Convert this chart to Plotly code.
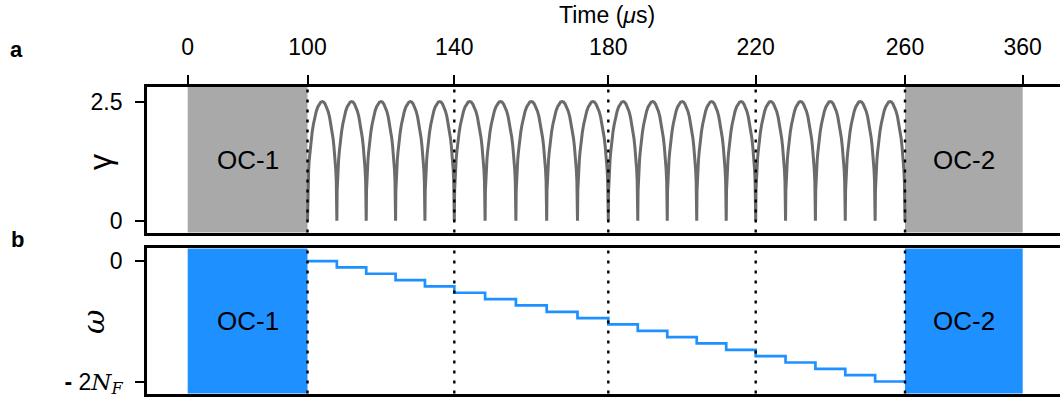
import numpy as np
import plotly.graph_objects as go

# ---------------- data ----------------
# time axis (μs) and the tick labels shown on the top axis
time_ticks = [0, 100, 140, 180, 220, 260, 360]
time_tick_labels = ["0", "100", "140", "180", "220", "260", "360"]
# segment boundaries (dotted lines)
boundaries = [100, 140, 180, 220, 260]
# optimal-control windows
oc_windows = [(0, 100, "OC-1"), (260, 360, "OC-2")]

# panel a: times of the dips of gamma (every 8 μs between 100 and 260)
dip_times = [100, 108, 116, 124, 132, 140, 148, 156, 164, 172, 180,
             188, 196, 204, 212, 220, 228, 236, 244, 252, 260]
# one arch of gamma between two dips (half arch, mirrored)
arch_frac_half = [0.0, 0.01, 0.02, 0.04, 0.06, 0.08, 0.10, 0.13, 0.16, 0.20,
                  0.25, 0.30, 0.35, 0.40, 0.45, 0.50]
arch_gamma_half = [0.0, 0.63, 0.83, 1.09, 1.28, 1.43, 1.56, 1.73, 1.87, 2.02,
                   2.18, 2.30, 2.39, 2.45, 2.49, 2.50]

# panel b: staircase of omega (in units of 2N_F/19)
step_starts = [100, 108, 116, 124, 132, 140, 148, 156, 164, 172,
               180, 188, 196, 204, 212, 220, 228, 236, 244, 252]
step_end = 260
omega_levels = [0, -1, -2, -3, -4, -5, -6, -7, -8, -9,
                -10, -11, -12, -13, -14, -15, -16, -17, -18, -19]

# ---------------- axis scale (piecewise, as in the figure) ----------------
W, H = 1060, 403
AX_PIX = [187.7, 307.5, 454.3, 608.3, 755.7, 905.0, 1022.7]  # pixel position of each tick


def tx(t):
    return np.interp(np.asarray(t, dtype=float), time_ticks, AX_PIX)


X_LEFT, X_RIGHT = 147, 1060
xdom = [X_LEFT / W, 1.0]
ya_dom = [(H - 235.5) / H, (H - 88) / H]
yb_dom = [(H - 398.5) / H, (H - 251.5) / H]

# ---------------- build gamma curve ----------------
arch_frac = arch_frac_half + [1 - f for f in arch_frac_half[-2::-1]]
arch_gamma = arch_gamma_half + arch_gamma_half[-2::-1]
g_t, g_y = [], []
for t0, t1 in zip(dip_times[:-1], dip_times[1:]):
    for f, g in zip(arch_frac, arch_gamma):
        g_t.append(t0 + f * (t1 - t0))
        g_y.append(g)

step_x = step_starts + [step_end]
step_y = omega_levels + [omega_levels[-1]]

GRAY = "#a9a9a9"
BLUE = "#1e90ff"
CURVE = "#6b6b6b"
FONT = "Liberation Sans, Arial, sans-serif"

fig = go.Figure()
fig.add_trace(go.Scatter(x=tx(g_t), y=g_y, mode="lines",
                         line=dict(color=CURVE, width=3),
                         xaxis="x", yaxis="y", showlegend=False, hoverinfo="skip"))
fig.add_trace(go.Scatter(x=tx(step_x), y=step_y, mode="lines",
                         line=dict(color=BLUE, width=2.7, shape="hv"),
                         xaxis="x2", yaxis="y2", showlegend=False, hoverinfo="skip"))

shapes = []
annotations = []
for (xa, ya, col) in [("x", "y", GRAY), ("x2", "y2", BLUE)]:
    for (a, b, lab) in oc_windows:
        shapes.append(dict(type="rect", xref=xa, yref=f"{ya} domain",
                           x0=float(tx(a)), x1=float(tx(b)), y0=0, y1=1,
                           fillcolor=col, line=dict(width=0), layer="below"))
        annotations.append(dict(x=float(tx((a + b) / 2)), y=0.5, xref=xa, yref=f"{ya} domain",
                                text=lab, showarrow=False,
                                font=dict(family=FONT, size=26, color="black")))
    for bnd in boundaries:
        shapes.append(dict(type="line", xref=xa, yref=f"{ya} domain",
                           x0=float(tx(bnd)), x1=float(tx(bnd)), y0=0, y1=1,
                           line=dict(color="black", width=2.4, dash="3px,7px"),
                           layer="above"))

annotations += [
    dict(x=607 / W, y=1 - 15 / H, xref="paper", yref="paper", text="Time (<i>μ</i>s)",
         showarrow=False, font=dict(family=FONT, size=23, color="black"),
         xanchor="center", yanchor="middle"),
    dict(x=16 / W, y=1 - 50 / H, xref="paper", yref="paper", text="<b>a</b>",
         showarrow=False, font=dict(family=FONT, size=22, color="black"),
         xanchor="center", yanchor="middle"),
    dict(x=17 / W, y=1 - 243 / H, xref="paper", yref="paper", text="<b>b</b>",
         showarrow=False, font=dict(family=FONT, size=22, color="black"),
         xanchor="center", yanchor="middle"),
    dict(x=100 / W, y=1 - 164 / H, xref="paper", yref="paper", text="γ",
         textangle=-90, showarrow=False,
         font=dict(family=FONT, size=32, color="black"),
         xanchor="center", yanchor="middle"),
    dict(x=94 / W, y=1 - 326 / H, xref="paper", yref="paper", text="<i>ω</i>",
         textangle=-90, showarrow=False,
         font=dict(family="DejaVu Serif, serif", size=30, color="black"),
         xanchor="center", yanchor="middle"),
]

axis_common = dict(showgrid=False, zeroline=False, showline=True, linecolor="black",
                   linewidth=2.7, ticks="outside", ticklen=9, tickwidth=2,
                   tickcolor="black",
                   tickfont=dict(family=FONT, size=23, color="black"))

fig.update_layout(
    width=W, height=H, margin=dict(l=0, r=0, t=0, b=0),
    paper_bgcolor="white", plot_bgcolor="white",
    shapes=shapes, annotations=annotations,
    xaxis=dict(axis_common, domain=xdom, anchor="y", side="top",
               range=[X_LEFT, X_RIGHT], tickvals=list(tx(time_ticks)),
               ticktext=time_tick_labels, mirror=True, ticklabelstandoff=11),
    yaxis=dict(axis_common, domain=ya_dom, anchor="x", range=[-0.25, 2.81],
               tickvals=[0, 2.5], ticktext=["0", "2.5"], ticklabelstandoff=8),
    xaxis2=dict(axis_common, domain=xdom, anchor="y2", range=[X_LEFT, X_RIGHT],
                ticks="", showticklabels=False, mirror=True),
    yaxis2=dict(axis_common, domain=yb_dom, anchor="x2", range=[-20.9, 2.0],
                tickvals=[0, -19],
                ticktext=["0", "<b>-</b> 2<span style='font-family:DejaVu Serif'><i>N</i><sub><i>F</i></sub></span>"],
                ticklabelstandoff=8, ticklabeloverflow="allow"),
)

fig.write_html("out.html", config={"displayModeBar": False})

# remove the default page margin so the figure sits at the window's top-left corner
with open("out.html", "r", encoding="utf-8") as fh:
    html = fh.read()
html = html.replace("<body>", "<body style=\"margin:0;overflow:hidden;\">", 1)
with open("out.html", "w", encoding="utf-8") as fh:
    fh.write(html)
